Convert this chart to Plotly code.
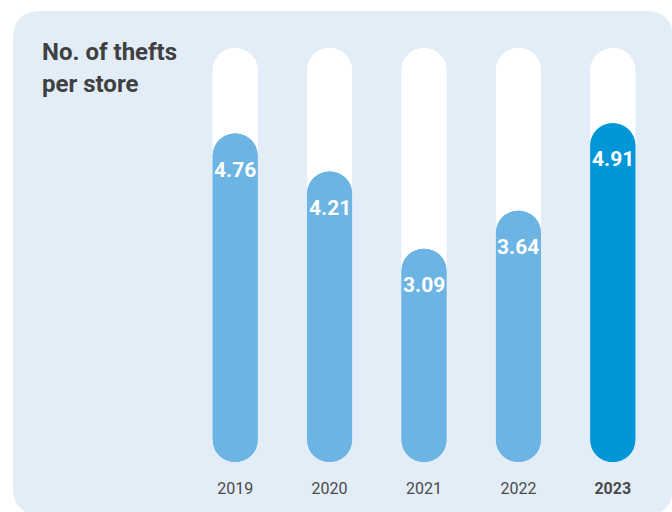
import re
import plotly.graph_objects as go

# No. of thefts per store, by year
years = ["2019", "2020", "2021", "2022", "2023"]
thefts = [4.76, 4.21, 3.09, 3.64, 4.91]
track_max = 6.0
title_lines = ["No. of thefts", "per store"]

# Colours
PANEL = "#E3EDF8"
LIGHT = "#6CB4E4"
DARK = "#0096D7"
bar_colors = [LIGHT, LIGHT, LIGHT, LIGHT, DARK]

W, H = 672, 512
ML, MR, MT, MB = 188, 12, 48, 50
pw, ph = W - ML - MR, H - MT - MB


def px2paper(px, py):
    # pixel position on the page -> paper fraction
    return (px - ML) / pw, (H - MB - py) / ph


x = list(range(len(years)))
width = 0.476
round_all = dict(cornerradius="50%")

fig = go.Figure()

# white background tracks (two overlapping bars -> rounded at both ends)
fig.add_trace(go.Bar(x=x, y=[track_max] * len(x), base=0, width=width,
                     marker=dict(color="white", line_width=0, **round_all)))
fig.add_trace(go.Bar(x=x, y=[-track_max] * len(x), base=[track_max] * len(x), width=width,
                     marker=dict(color="white", line_width=0, **round_all)))

# value capsules
fig.add_trace(go.Bar(x=x, y=thefts, base=0, width=width,
                     marker=dict(color=bar_colors, line_width=0, **round_all)))
fig.add_trace(go.Bar(x=x, y=[-v for v in thefts], base=thefts, width=width,
                     marker=dict(color=bar_colors, line_width=0, **round_all)))

# value labels inside the top of each capsule
for i, v in enumerate(thefts):
    fig.add_annotation(x=i, y=v, yshift=-36, text=f"<b>{v:.2f}</b>", showarrow=False,
                       font=dict(family="Roboto", size=21, color="white"))

# title, one annotation per line
for k, line in enumerate(title_lines):
    tx, ty = px2paper(40, 52 + 32 * k)
    fig.add_annotation(xref="paper", yref="paper", x=tx, y=ty, xanchor="left", yanchor="middle",
                       text=f"<b>{line}</b>", showarrow=False,
                       font=dict(family="Roboto", size=24, color="#404040"))

# rounded panel background (pixel path converted to paper coords)
panel_px = ("M 13,39 Q 13,11 41,11 L 645,11 Q 673,11 673,39 L 673,487 "
            "Q 673,515 645,515 L 41,515 Q 13,515 13,487 Z")


def conv(path):
    def rep(m):
        u, v = px2paper(float(m.group(1)), float(m.group(2)))
        return f"{u:.5f},{v:.5f}"
    return re.sub(r"(-?\d+(?:\.\d+)?),(-?\d+(?:\.\d+)?)", rep, path)


fig.add_shape(type="path", xref="paper", yref="paper", layer="below",
              path=conv(panel_px), fillcolor=PANEL, line_width=0)

ticktext = years[:-1] + [f"<b>{years[-1]}</b>"]

fig.update_layout(
    width=W, height=H,
    barmode="overlay",
    showlegend=False,
    paper_bgcolor="white",
    plot_bgcolor="rgba(0,0,0,0)",
    margin=dict(l=ML, r=MR, t=MT, b=MB),
    xaxis=dict(range=[-0.5, 4.5], tickvals=x, ticktext=ticktext,
               showgrid=False, zeroline=False, showline=False,
               ticks="outside", ticklen=12, tickcolor="rgba(0,0,0,0)",
               tickfont=dict(family="Roboto", size=16, color="#4a4a4a")),
    yaxis=dict(range=[0, track_max], visible=False, showgrid=False, zeroline=False),
    hovermode=False,
)

fig.write_html("out.html", config={"displayModeBar": False},
               post_script="document.body.style.margin='0';")
